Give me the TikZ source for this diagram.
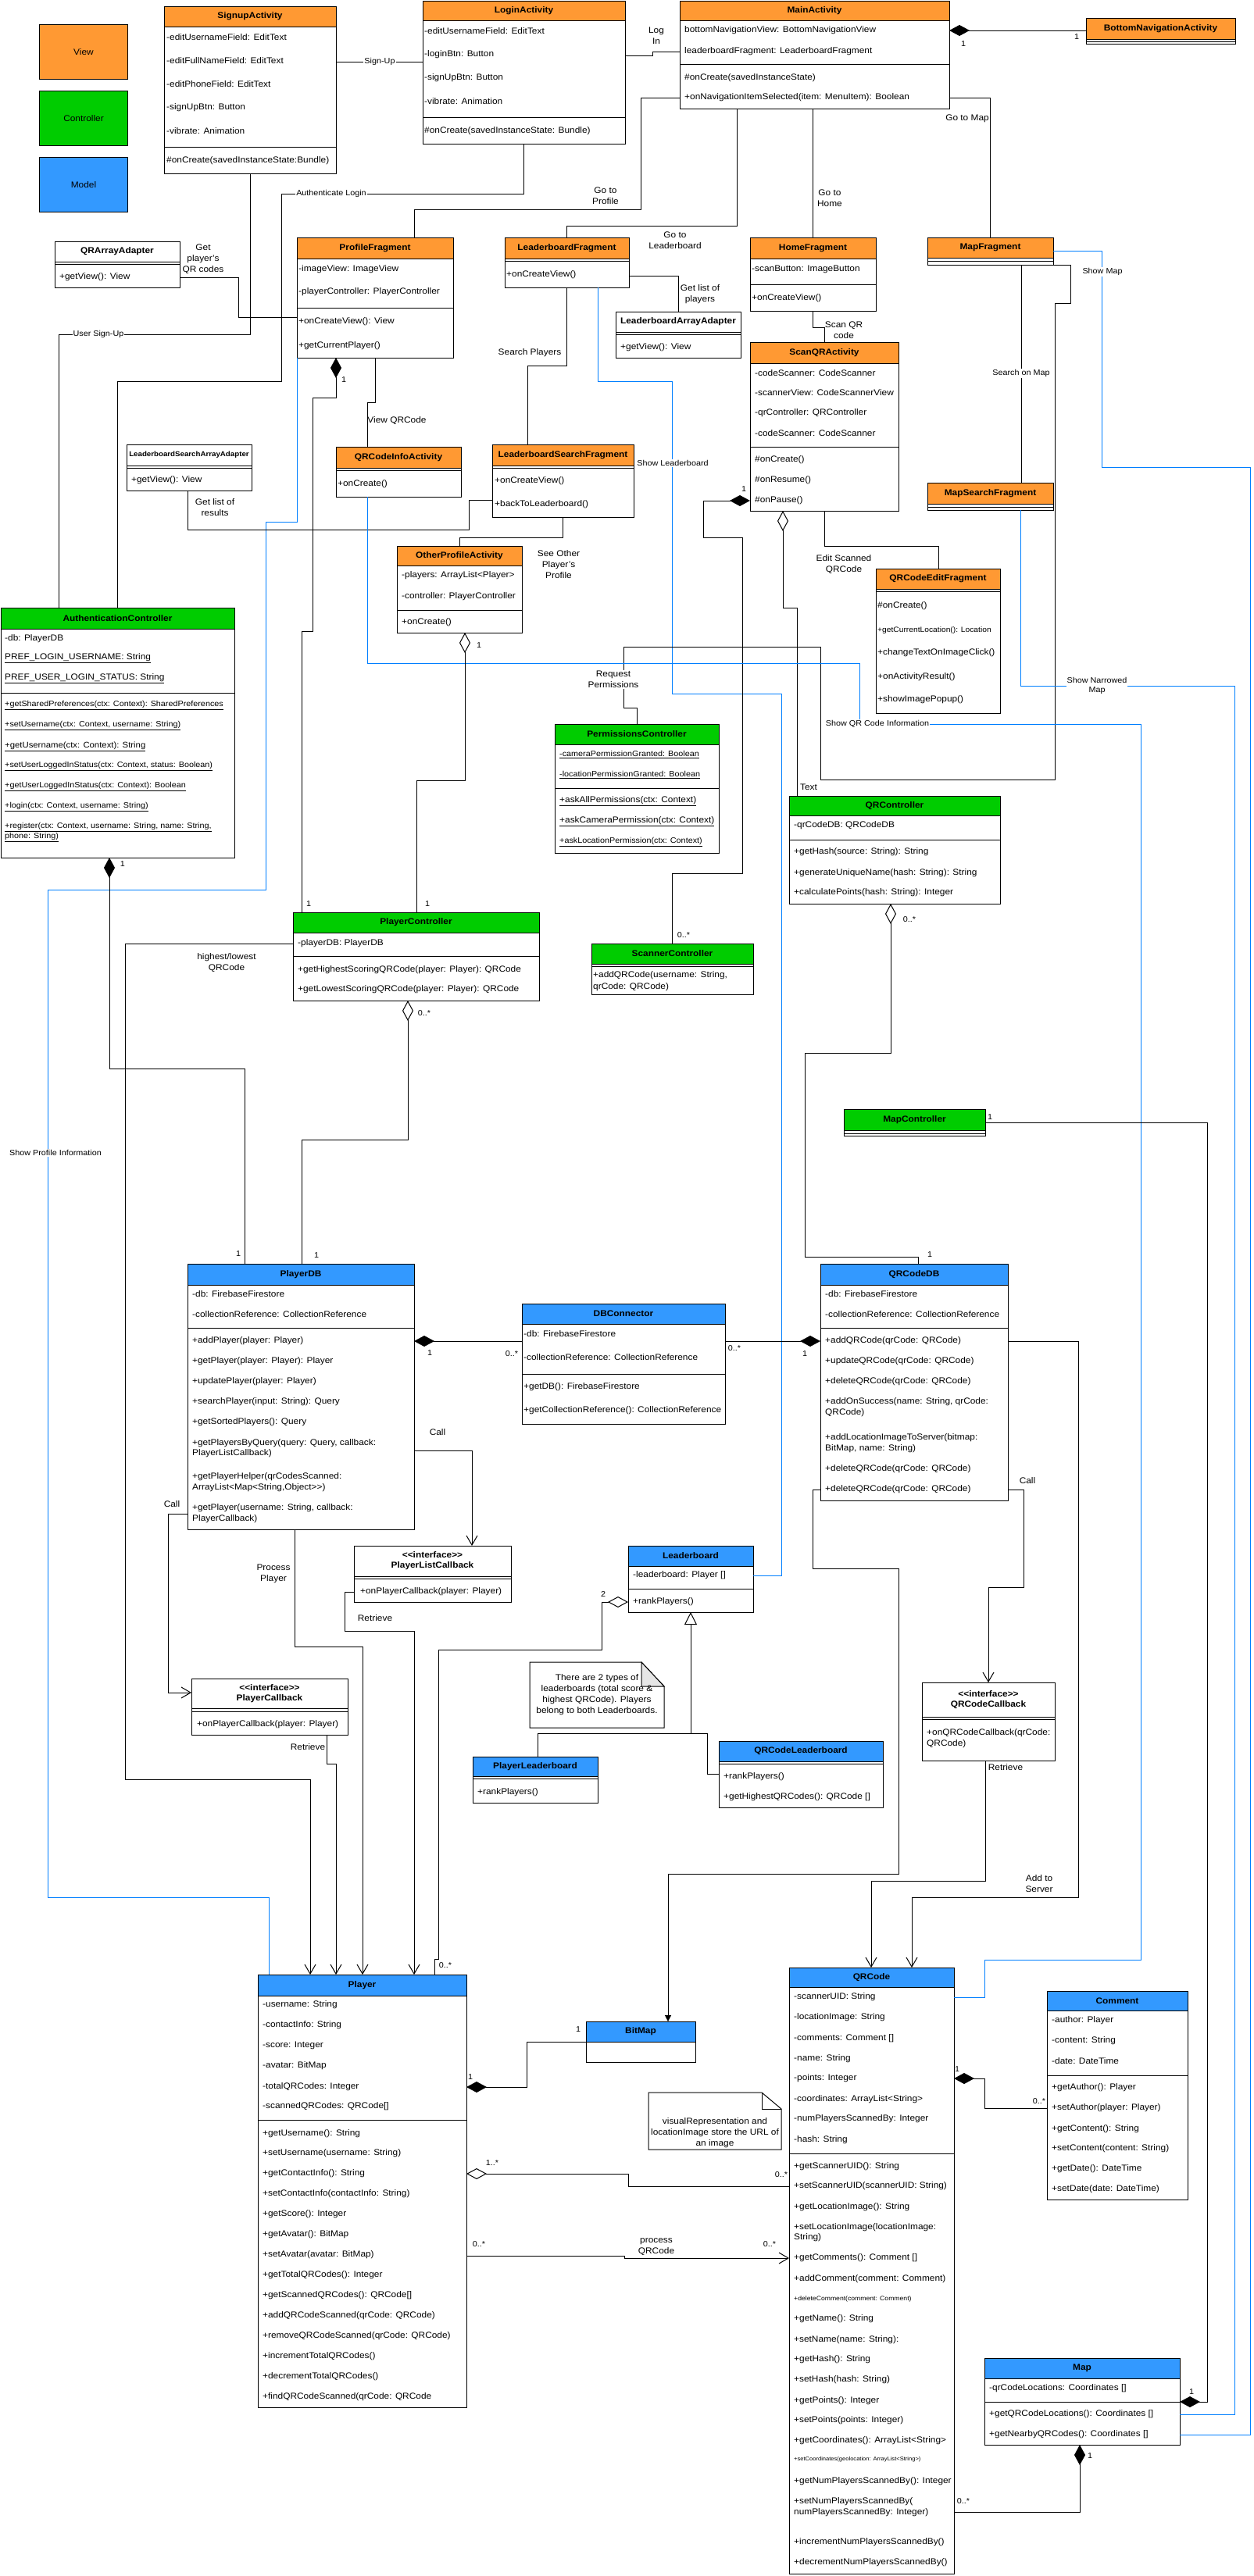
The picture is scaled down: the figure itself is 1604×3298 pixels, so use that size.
\documentclass[tikz,border=0pt]{standalone}
\usepackage{fontspec}
\setmainfont{Liberation Sans}[FakeStretch=1.08]
\usetikzlibrary{arrows.meta}
\definecolor{vorange}{HTML}{FF9933}
\definecolor{cgreen}{HTML}{00CC00}
\definecolor{mblue}{HTML}{3399FF}
\definecolor{lblue}{HTML}{007FFF}
\definecolor{foldgray}{HTML}{E6E6E6}
\newcommand\cls[8]{%
 \node[draw, line width=1pt, fill=white, inner sep=0pt, outer sep=0pt, anchor=north west,
   minimum width={(#4-#2)*1pt}, minimum height={(#5-#3)*1pt}] (#1) at (#2,#3) {};
 \fill[#7] (#2,#3) rectangle (#4,#6);
 \draw[line width=1pt] (#2,#3) rectangle (#4,#5);
 \draw[line width=1pt] (#2,#6) -- (#4,#6);
 \node[ttl] at ({(#2+#4)/2},{(#3+#6)/2}) {#8};}
\newcommand\sepline[3]{\draw[line width=1pt] (#1,#3) -- (#2,#3);}
\newcommand\row[2]{\node[txt] at (\tx,#1) {#2};}
\newcommand\srow[3]{\node[txt, font=\fontsize{#1}{#1}\selectfont] at (\tx,#2) {#3};}
\newcommand\mlt[3]{\node[mult] at (#1,#2) {#3};}
\begin{document}
\begin{tikzpicture}[x=1pt,y=-1pt,
  txt/.style={anchor=west, inner sep=0pt, font=\fontsize{11}{13}\selectfont},
  ttl/.style={inner sep=0pt, align=center, font=\fontsize{11}{13}\selectfont\bfseries},
  lbl/.style={inner sep=1pt, align=center, font=\fontsize{11}{14}\selectfont},
  slbl/.style={inner sep=1pt, align=center, font=\fontsize{10}{12}\selectfont},
  mult/.style={inner sep=0pt, font=\fontsize{10}{12}\selectfont},
  con/.style={line width=1pt, draw=black},
  bcon/.style={line width=1pt, draw=lblue},
  comp/.style={{Diamond[length=26pt,width=14pt]}-},
  aggr/.style={{Diamond[fill=white,length=26pt,width=14pt]}-},
  opn/.style={-{Straight Barb[length=12pt,width=14pt]}},
  legend/.style={draw, line width=1pt, anchor=north west, minimum width=113pt, minimum height=70pt, font=\fontsize{11}{13}\selectfont}
  ]
\fill[white] (0,0) rectangle (1604,3298);
\useasboundingbox (0,0) rectangle (1604,3298);

% legend
\node[legend, fill=vorange] (lgview) at (50,31) {View};
\node[legend, fill=cgreen] (lgctrl) at (50,116) {Controller};
\node[legend, fill=mblue] (lgmodel) at (50,201) {Model};

% ---------------- classes ----------------
\cls{signup}{210}{8}{430}{222}{34}{vorange}{SignupActivity}
\def\tx{213}
\row{48}{-editUsernameField: EditText}
\row{78}{-editFullNameField: EditText}
\row{108}{-editPhoneField: EditText}
\row{138}{-signUpBtn: Button}
\row{168}{-vibrate: Animation}
\sepline{210}{430}{188}
\row{206}{\#onCreate(savedInstanceState:Bundle)}

\cls{login}{541}{1}{800}{184}{26}{vorange}{LoginActivity}
\def\tx{543}
\row{40}{-editUsernameField: EditText}
\row{70}{-loginBtn: Button}
\row{100}{-signUpBtn: Button}
\row{130}{-vibrate: Animation}
\sepline{541}{800}{150}
\row{168}{\#onCreate(savedInstanceState: Bundle)}

\cls{main}{870}{1}{1215}{139}{26}{vorange}{MainActivity}
\def\tx{876}
\row{39}{bottomNavigationView: BottomNavigationView}
\row{66}{leaderboardFragment: LeaderboardFragment}
\sepline{870}{1215}{82}
\row{100}{\#onCreate(savedInstanceState)}
\row{125}{+onNavigationItemSelected(item: MenuItem): Boolean}

\cls{botnav}{1390}{23}{1581}{56}{50}{vorange}{BottomNavigationActivity}
\sepline{1390}{1581}{53}

\cls{qraa}{70}{309}{230}{368}{335}{white}{QRArrayAdapter}
\sepline{70}{230}{338}
\def\tx{76}
\row{355}{+getView(): View}

\cls{profile}{380}{304}{580}{458}{331}{vorange}{ProfileFragment}
\def\tx{382}
\row{345}{-imageView: ImageView}
\row{374}{-playerController: PlayerController}
\sepline{380}{580}{394}
\row{412}{+onCreateView(): View}
\row{443}{+getCurrentPlayer()}

\cls{lbfrag}{646}{304}{805}{368}{331}{vorange}{LeaderboardFragment}
\sepline{646}{805}{334}
\def\tx{648}
\row{352}{+onCreateView()}

\cls{home}{960}{304}{1121}{398}{331}{vorange}{HomeFragment}
\def\tx{962}
\row{345}{-scanButton: ImageButton}
\sepline{960}{1121}{364}
\row{382}{+onCreateView()}

\cls{mapfrag}{1187}{304}{1348}{339}{330}{vorange}{MapFragment}
\sepline{1187}{1348}{334}

\cls{lbaa}{788}{399}{948}{458}{425}{white}{LeaderboardArrayAdapter}
\sepline{788}{948}{428}
\def\tx{794}
\row{445}{+getView(): View}

\cls{scanqr}{960}{438}{1150}{654}{465}{vorange}{ScanQRActivity}
\def\tx{966}
\row{478}{-codeScanner: CodeScanner}
\row{503}{-scannerView: CodeScannerView}
\row{529}{-qrController: QRController}
\row{555}{-codeScanner: CodeScanner}
\sepline{960}{1150}{572}
\row{589}{\#onCreate()}
\row{615}{\#onResume()}
\row{641}{\#onPause()}

\cls{lsaa}{162}{569}{322}{628}{596}{white}{\fontsize{9}{11}\selectfont LeaderboardSearchArrayAdapter}
\sepline{162}{322}{599}
\def\tx{168}
\row{615}{+getView(): View}

\cls{qrinfo}{430}{572}{590}{636}{599}{vorange}{QRCodeInfoActivity}
\sepline{430}{590}{602}
\def\tx{432}
\row{620}{+onCreate()}

\cls{lsf}{630}{569}{811}{662}{596}{vorange}{LeaderboardSearchFragment}
\sepline{630}{811}{599}
\def\tx{633}
\row{616}{+onCreateView()}
\row{646}{+backToLeaderboard()}

\cls{mapsearch}{1187}{618}{1348}{653}{645}{vorange}{MapSearchFragment}
\sepline{1187}{1348}{649}

\cls{qredit}{1121}{728}{1280}{913}{754}{vorange}{QRCodeEditFragment}
\sepline{1121}{1280}{757}
\def\tx{1123}
\row{776}{\#onCreate()}
\srow{9.5}{807}{+getCurrentLocation(): Location}
\row{836}{+changeTextOnImageClick()}
\row{867}{+onActivityResult()}
\row{896}{+showImagePopup()}

\cls{otherprof}{508}{699}{668}{810}{724}{vorange}{OtherProfileActivity}
\def\tx{514}
\row{737}{-players: ArrayList<Player>}
\row{764}{-controller: PlayerController}
\sepline{508}{668}{781}
\row{797}{+onCreate()}

\cls{auth}{1}{778}{300}{1098}{805}{cgreen}{AuthenticationController}
\def\tx{6}
\row{818}{-db: PlayerDB}
\row{843}{\underline{PREF\_LOGIN\_USERNAME: String}}
\row{869}{\underline{PREF\_USER\_LOGIN\_STATUS: String}}
\sepline{1}{300}{887}
\srow{10}{903}{\underline{+getSharedPreferences(ctx: Context): SharedPreferences}}
\srow{10}{929}{\underline{+setUsername(ctx: Context, username: String)}}
\srow{10.5}{956}{\underline{+getUsername(ctx: Context): String}}
\srow{10}{981}{\underline{+setUserLoggedInStatus(ctx: Context, status: Boolean)}}
\srow{10}{1007}{\underline{+getUserLoggedInStatus(ctx: Context): Boolean}}
\srow{10}{1033}{\underline{+login(ctx: Context, username: String)}}
\srow{10}{1059}{\underline{+register(ctx: Context, username: String, name: String,}}
\srow{10}{1072}{\underline{phone: String)}}

\cls{permctrl}{710}{927}{920}{1092}{953}{cgreen}{PermissionsController}
\def\tx{716}
\srow{10}{966}{\underline{-cameraPermissionGranted: Boolean}}
\srow{10}{992}{\underline{-locationPermissionGranted: Boolean}}
\sepline{710}{920}{1009}
\row{1026}{\underline{+askAllPermissions(ctx: Context)}}
\row{1052}{\underline{+askCameraPermission(ctx: Context)}}
\srow{10}{1078}{\underline{+askLocationPermission(ctx: Context)}}

\cls{qrctrl}{1010}{1019}{1280}{1157}{1044}{cgreen}{QRController}
\def\tx{1016}
\row{1057}{-qrCodeDB: QRCodeDB}
\sepline{1010}{1280}{1075}
\row{1091}{+getHash(source: String): String}
\row{1118}{+generateUniqueName(hash: String): String}
\row{1143}{+calculatePoints(hash: String): Integer}

\cls{pctrl}{375}{1168}{690}{1281}{1194}{cgreen}{PlayerController}
\def\tx{381}
\row{1208}{-playerDB: PlayerDB}
\sepline{375}{690}{1224}
\row{1242}{+getHighestScoringQRCode(player: Player): QRCode}
\row{1267}{+getLowestScoringQRCode(player: Player): QRCode}

\cls{scannerctrl}{757}{1208}{964}{1273}{1234}{cgreen}{ScannerController}
\sepline{757}{964}{1237}
\def\tx{759}
\row{1249}{+addQRCode(username: String,}
\row{1264}{qrCode: QRCode)}

\cls{mapctrl}{1080}{1420}{1261}{1454}{1447}{cgreen}{MapController}
\sepline{1080}{1261}{1451}

\cls{playerdb}{240}{1618}{530}{1958}{1645}{mblue}{PlayerDB}
\def\tx{246}
\row{1657}{-db: FirebaseFirestore}
\row{1683}{-collectionReference: CollectionReference}
\sepline{240}{530}{1700}
\row{1717}{+addPlayer(player: Player)}
\row{1743}{+getPlayer(player: Player): Player}
\row{1769}{+updatePlayer(player: Player)}
\row{1795}{+searchPlayer(input: String): Query}
\row{1821}{+getSortedPlayers(): Query}
\row{1848}{+getPlayersByQuery(query: Query, callback:}
\row{1861}{PlayerListCallback)}
\row{1891}{+getPlayerHelper(qrCodesScanned:}
\row{1905}{ArrayList<Map<String,Object>{}>)}
\row{1931}{+getPlayer(username: String, callback:}
\row{1945}{PlayerCallback)}

\cls{dbconn}{668}{1669}{928}{1823}{1695}{mblue}{DBConnector}
\def\tx{670}
\row{1708}{-db: FirebaseFirestore}
\row{1738}{-collectionReference: CollectionReference}
\sepline{668}{928}{1759}
\row{1776}{+getDB(): FirebaseFirestore}
\row{1806}{+getCollectionReference(): CollectionReference}

\cls{qrdb}{1050}{1618}{1290}{1921}{1645}{mblue}{QRCodeDB}
\def\tx{1056}
\row{1657}{-db: FirebaseFirestore}
\row{1683}{-collectionReference: CollectionReference}
\sepline{1050}{1290}{1700}
\row{1717}{+addQRCode(qrCode: QRCode)}
\row{1743}{+updateQRCode(qrCode: QRCode)}
\row{1769}{+deleteQRCode(qrCode: QRCode)}
\row{1795}{+addOnSuccess(name: String, qrCode:}
\row{1809}{QRCode)}
\row{1841}{+addLocationImageToServer(bitmap:}
\row{1855}{BitMap, name: String)}
\row{1881}{+deleteQRCode(qrCode: QRCode)}
\row{1907}{+deleteQRCode(qrCode: QRCode)}

\cls{plc}{453}{1979}{654}{2051}{2018}{white}{{<}{<}interface{>}{>}\\PlayerListCallback}
\sepline{453}{654}{2021}
\def\tx{461}
\row{2038}{+onPlayerCallback(player: Player)}

\cls{leaderboard}{804}{1979}{964}{2064}{2005}{mblue}{Leaderboard}
\def\tx{810}
\row{2017}{-leaderboard: Player []}
\sepline{804}{964}{2034}
\row{2051}{+rankPlayers()}

\cls{pcb}{245}{2149}{445}{2221}{2187}{white}{{<}{<}interface{>}{>}\\PlayerCallback}
\sepline{245}{445}{2191}
\def\tx{252}
\row{2208}{+onPlayerCallback(player: Player)}

\cls{qrcb}{1180}{2154}{1350}{2254}{2198}{white}{{<}{<}interface{>}{>}\\QRCodeCallback}
\sepline{1180}{1350}{2201}
\def\tx{1186}
\row{2219}{+onQRCodeCallback(qrCode:}
\row{2233}{QRCode)}

\cls{plb}{605}{2249}{765}{2308}{2274}{mblue}{PlayerLeaderboard}
\sepline{605}{765}{2277}
\def\tx{611}
\row{2295}{+rankPlayers()}

\cls{qrlb}{920}{2229}{1130}{2314}{2255}{mblue}{QRCodeLeaderboard}
\sepline{920}{1130}{2258}
\def\tx{926}
\row{2275}{+rankPlayers()}
\row{2301}{+getHighestQRCodes(): QRCode []}

\cls{bitmap}{750}{2588}{890}{2640}{2614}{mblue}{BitMap}

\cls{player}{330}{2528}{597}{3082}{2555}{mblue}{Player}
\def\tx{336}
\row{2567}{-username: String}
\row{2593}{-contactInfo: String}
\row{2619}{-score: Integer}
\row{2645}{-avatar: BitMap}
\row{2672}{-totalQRCodes: Integer}
\row{2697}{-scannedQRCodes: QRCode[]}
\sepline{330}{597}{2714}
\row{2732}{+getUsername(): String}
\row{2757}{+setUsername(username: String)}
\row{2783}{+getContactInfo(): String}
\row{2809}{+setContactInfo(contactInfo: String)}
\row{2835}{+getScore(): Integer}
\row{2861}{+getAvatar(): BitMap}
\row{2887}{+setAvatar(avatar: BitMap)}
\row{2913}{+getTotalQRCodes(): Integer}
\row{2939}{+getScannedQRCodes(): QRCode[]}
\row{2965}{+addQRCodeScanned(qrCode: QRCode)}
\row{2991}{+removeQRCodeScanned(qrCode: QRCode)}
\row{3017}{+incrementTotalQRCodes()}
\row{3043}{+decrementTotalQRCodes()}
\row{3069}{+findQRCodeScanned(qrCode: QRCode}

\cls{qrcode}{1010}{2519}{1221}{3295}{2544}{mblue}{QRCode}
\def\tx{1016}
\row{2557}{-scannerUID: String}
\row{2583}{-locationImage: String}
\row{2610}{-comments: Comment []}
\row{2636}{-name: String}
\row{2661}{-points: Integer}
\row{2688}{-coordinates: ArrayList<String>}
\row{2713}{-numPlayersScannedBy: Integer}
\row{2740}{-hash: String}
\sepline{1010}{1221}{2757}
\row{2774}{+getScannerUID(): String}
\row{2799}{+setScannerUID(scannerUID: String)}
\row{2826}{+getLocationImage(): String}
\row{2852}{+setLocationImage(locationImage:}
\row{2865}{String)}
\row{2891}{+getComments(): Comment []}
\row{2918}{+addComment(comment: Comment)}
\srow{8}{2943}{+deleteComment(comment: Comment)}
\row{2969}{+getName(): String}
\row{2996}{+setName(name: String):}
\row{3021}{+getHash(): String}
\row{3047}{+setHash(hash: String)}
\row{3074}{+getPoints(): Integer}
\row{3099}{+setPoints(points: Integer)}
\row{3125}{+getCoordinates(): ArrayList<String>}
\srow{7}{3149}{+setCoordinates(geolocation: ArrayList<String>)}
\row{3177}{+getNumPlayersScannedBy(): Integer}
\row{3203}{+setNumPlayersScannedBy(}
\row{3217}{numPlayersScannedBy: Integer)}
\row{3255}{+incrementNumPlayersScannedBy()}
\row{3281}{+decrementNumPlayersScannedBy()}

\cls{comment}{1340}{2549}{1520}{2816}{2574}{mblue}{Comment}
\def\tx{1346}
\row{2587}{-author: Player}
\row{2613}{-content: String}
\row{2639}{-date: DateTime}
\sepline{1340}{1520}{2657}
\row{2673}{+getAuthor(): Player}
\row{2699}{+setAuthor(player: Player)}
\row{2726}{+getContent(): String}
\row{2751}{+setContent(content: String)}
\row{2777}{+getDate(): DateTime}
\row{2803}{+setDate(date: DateTime)}

\cls{map}{1260}{3019}{1510}{3130}{3045}{mblue}{Map}
\def\tx{1266}
\row{3058}{-qrCodeLocations: Coordinates []}
\sepline{1260}{1510}{3075}
\row{3091}{+getQRCodeLocations(): Coordinates []}
\row{3117}{+getNearbyQRCodes(): Coordinates []}

% notes
\draw[line width=1pt, fill=white] (678,2128) -- (821,2128) -- (850,2159) -- (850,2212) -- (678,2212) -- cycle;
\draw[line width=1pt, fill=foldgray] (821,2128) -- (821,2159) -- (850,2159) -- cycle;
\node[lbl] (note1) at (764,2170) {There are 2 types of\\leaderboards (total score \&\\highest QRCode). Players\\belong to both Leaderboards.};
\draw[line width=1pt, fill=white] (830,2679) -- (975,2679) -- (1000,2700) -- (1000,2752) -- (830,2752) -- cycle;
\draw[line width=1pt] (975,2679) -- (975,2700) -- (1000,2700);
\node[lbl] (note2) at (915,2731) {visualRepresentation and\\locationImage store the URL of\\an image};

% ---------------- connectors ----------------
\draw[con] (signup.east |- 0,79) -- (login.west |- 0,79);
\node[slbl, fill=white] at (486,79) {Sign-Up};

\draw[con] (login.east |- 0,71) -- (835,71) -- (835,66) -- (main.west |- 0,66);
\node[lbl] at (840,46) {Log\\In};

\draw[con] (login.south -| 670,0) -- (670,248) -- (360,248) -- (360,488) -- (150,488) -- (auth.north -| 150,0);
\node[slbl, fill=white] at (424,248) {Authenticate Login};

\draw[con] (signup.south -| 320,0) -- (320,428) -- (75,428) -- (auth.north -| 75,0);
\node[slbl, fill=white] at (126,428) {User Sign-Up};

\draw[con] (main.west |- 0,125) -- (820,125) -- (820,268) -- (530,268) -- (profile.north -| 530,0);
\node[lbl] at (775,251) {Go to\\Profile};

\draw[con] (main.south -| 943,0) -- (943,289) -- (725,289) -- (lbfrag.north -| 725,0);
\node[lbl] at (864,308) {Go to\\Leaderboard};

\draw[con] (main.south -| 1040,0) -- (home.north -| 1040,0);
\node[lbl] at (1062,254) {Go to\\Home};

\draw[con] (main.east |- 0,125) -- (1267,125) -- (mapfrag.north -| 1267,0);
\node[lbl] at (1238,152) {Go to Map};

\draw[con, comp] (main.east |- 0,39) -- (botnav.west |- 0,39);
\mlt{1233}{56}{1} \mlt{1378}{47}{1}

\draw[con] (qraa.east |- 0,355) -- (305,355) -- (305,406) -- (profile.west |- 0,406);
\node[lbl] at (260,332) {Get\\player's\\QR codes};

\draw[con, comp] (profile.south -| 430,0) -- (430,509) -- (400,509) -- (400,808) -- (386,808) -- (pctrl.north -| 386,0);
\mlt{440}{486}{1} \mlt{395}{1157}{1}

\draw[con] (profile.south -| 480,0) -- (480,515) -- (470,515) -- (qrinfo.north -| 470,0);
\node[lbl] at (508,539) {View QRCode};

\draw[bcon] (profile.south west) -- (380,668) -- (340,668) -- (340,1139) -- (61,1139) -- (61,2429) -- (344,2429) -- (player.north -| 344,0);
\node[slbl, fill=white] at (71,1476) {Show Profile Information};

\draw[con] (lbfrag.east |- 0,353) -- (868,353) -- (lbaa.north -| 868,0);
\node[lbl] at (896,377) {Get list of\\players};

\draw[con] (lbfrag.south -| 725,0) -- (725,468) -- (675,468) -- (lsf.north -| 675,0);
\node[lbl] at (678,452) {Search Players};

\draw[bcon] (lbfrag.south -| 765,0) -- (765,488) -- (860,488) -- (860,888) -- (1000,888) -- (1000,2017) -- (leaderboard.east |- 0,2017);
\node[slbl, fill=white] at (861,593) {Show Leaderboard};

\draw[con] (lsaa.south -| 240,0) -- (240,678) -- (600,678) -- (600,640) -- (lsf.west |- 0,640);
\node[lbl] at (275,650) {Get list of\\results};

\draw[con] (lsf.south -| 720,0) -- (720,688) -- (588,688) -- (otherprof.north -| 588,0);
\node[lbl] at (715,723) {See Other\\Player's\\Profile};

\draw[con] (home.south -| 1040,0) -- (1040,419) -- (1055,419) -- (scanqr.north -| 1055,0);
\node[lbl] at (1080,423) {Scan QR\\code};

\draw[con] (scanqr.south -| 1055,0) -- (1055,699) -- (1201,699) -- (qredit.north -| 1201,0);
\node[lbl] at (1080,723) {Edit Scanned\\QRCode};

\draw[con, comp] (scanqr.west |- 0,641) -- (900,641) -- (900,688) -- (950,688) -- (950,1118) -- (860,1118) -- (scannerctrl.north -| 860,0);
\mlt{952}{626}{1} \mlt{875}{1197}{0..*}

\draw[con, aggr] (scanqr.south -| 1002,0) -- (1002,778) -- (1020,778) -- (qrctrl.north -| 1020,0);
\node[lbl] at (1035,1008) {Text};

\draw[con] (mapfrag.south -| 1307,0) -- (mapsearch.north -| 1307,0);
\node[slbl, fill=white] at (1307,478) {Search on Map};

\draw[bcon] (mapfrag.east |- 0,321) -- (1410,321) -- (1410,598) -- (1600,598) -- (1600,3117) -- (map.east |- 0,3117);
\node[slbl, fill=white] at (1411,348) {Show Map};

\draw[con] (mapfrag.south east) -- (1370,339) -- (1370,388) -- (1350,388) -- (1350,998) -- (1050,998) -- (1050,828) -- (798,828) -- (798,906) -- (815,906) -- (permctrl.north -| 815,0);
\node[lbl, fill=white] at (785,870) {Request\\Permissions};

\draw[bcon] (mapsearch.south -| 1306,0) -- (1306,878) -- (1580,878) -- (1580,3091) -- (map.east |- 0,3091);
\node[slbl, fill=white] at (1404,878) {Show Narrowed\\Map};

\draw[bcon] (qrinfo.south -| 470,0) -- (470,849) -- (1100,849) -- (1100,927) -- (1460,927) -- (1460,2509) -- (1260,2509) -- (1260,2557) -- (qrcode.east |- 0,2557);
\node[slbl, fill=white] at (1123,927) {Show QR Code Information};

\draw[con, aggr] (otherprof.south -| 595,0) -- (595,999) -- (533,999) -- (pctrl.north -| 533,0);
\mlt{613}{826}{1} \mlt{547}{1157}{1}

\draw[con, comp] (auth.south -| 140,0) -- (140,1368) -- (313,1368) -- (playerdb.north -| 313,0);
\mlt{157}{1106}{1} \mlt{305}{1605}{1}

\draw[con, opn] (pctrl.west |- 0,1208) -- (160,1208) -- (160,2278) -- (397,2278) -- (player.north -| 397,0);
\node[lbl] at (290,1233) {highest/lowest\\QRCode};

\draw[con, aggr] (pctrl.south -| 522,0) -- (522,1459) -- (386,1459) -- (playerdb.north -| 386,0);
\mlt{543}{1297}{0..*} \mlt{405}{1607}{1}

\draw[con, comp] (playerdb.east |- 0,1717) -- (dbconn.west |- 0,1717);
\mlt{550}{1732}{1} \mlt{655}{1733}{0..*}

\draw[con, comp] (qrdb.west |- 0,1717) -- (dbconn.east |- 0,1717);
\mlt{940}{1726}{0..*} \mlt{1030}{1733}{1}

\draw[con, opn] (playerdb.east |- 0,1857) -- (604,1857) -- (plc.north -| 604,0);
\node[lbl] at (560,1834) {Call};

\draw[con, opn] (playerdb.west |- 0,1938) -- (215,1938) -- (215,2167) -- (pcb.west |- 0,2167);
\node[lbl] at (220,1926) {Call};

\draw[con, opn] (playerdb.south -| 377,0) -- (377,2108) -- (464,2108) -- (player.north -| 464,0);
\node[lbl] at (350,2015) {Process\\Player};

\draw[con, opn] (plc.west |- 0,2038) -- (441,2038) -- (441,2088) -- (530,2088) -- (player.north -| 530,0);
\node[lbl] at (480,2072) {Retrieve};

\draw[con, opn] (pcb.south -| 418,0) -- (418,2258) -- (430,2258) -- (player.north -| 430,0);
\node[lbl] at (394,2237) {Retrieve};

\draw[con, aggr] (leaderboard.west |- 0,2051) -- (770,2051) -- (770,2112) -- (561,2112) -- (561,2508) -- (556,2508) -- (player.north -| 556,0);
\mlt{772}{2041}{2} \mlt{570}{2516}{0..*}

\draw[con, -{Triangle[fill=white,length=16pt,width=16pt]}] (884,2219) -- (leaderboard.south -| 884,0);
\draw[con] (plb.north -| 688,0) -- (688,2219) -- (905,2219) -- (905,2271) -- (qrlb.west |- 0,2271);

\draw[con, -{Triangle[length=8pt,width=8pt]}] (qrdb.west |- 0,1907) -- (1040,1907) -- (1040,2008) -- (1150,2008) -- (1150,2399) -- (855,2399) -- (bitmap.north -| 855,0);

\draw[con, opn] (qrdb.east |- 0,1717) -- (1380,1717) -- (1380,2429) -- (1167,2429) -- (qrcode.north -| 1167,0);
\node[lbl] at (1330,2412) {Add to\\Server};

\draw[con, opn] (qrdb.east |- 0,1907) -- (1310,1907) -- (1310,2032) -- (1265,2032) -- (qrcb.north -| 1265,0);
\node[lbl] at (1315,1896) {Call};

\draw[con, opn] (qrcb.south -| 1261,0) -- (1261,2408) -- (1115,2408) -- (qrcode.north -| 1115,0);
\node[lbl] at (1287,2263) {Retrieve};

\draw[con, aggr] (qrctrl.south -| 1140,0) -- (1140,1348) -- (1030,1348) -- (1030,1609) -- (1175,1609) -- (qrdb.north -| 1175,0);
\mlt{1164}{1177}{0..*} \mlt{1190}{1606}{1}

\draw[con, comp] (map.east |- 0,3075) -- (1545,3075) -- (1545,1437) -- (mapctrl.east |- 0,1437);
\mlt{1267}{1430}{1} \mlt{1525}{3062}{1}

\draw[con, comp] (player.east |- 0,2672) -- (674,2672) -- (674,2614) -- (bitmap.west |- 0,2614);
\mlt{602}{2659}{1} \mlt{740}{2598}{1}

\draw[con, aggr] (player.east |- 0,2783) -- (804,2783) -- (804,2799) -- (qrcode.west |- 0,2799);
\mlt{630}{2769}{1..*} \mlt{1000}{2784}{0..*}

\draw[con, opn] (player.east |- 0,2888) -- (799,2888) -- (799,2891) -- (qrcode.west |- 0,2891);
\mlt{613}{2873}{0..*} \mlt{985}{2873}{0..*}
\node[lbl] at (840,2877) {process\\QRCode};

\draw[con, comp] (qrcode.east |- 0,2661) -- (1260,2661) -- (1260,2699) -- (comment.west |- 0,2699);
\mlt{1225}{2649}{1} \mlt{1330}{2690}{0..*}

\draw[con, comp] (map.south -| 1382,0) -- (1382,3216) -- (qrcode.east |- 0,3216);
\mlt{1395}{3144}{1} \mlt{1233}{3202}{0..*}

\end{tikzpicture}
\end{document}
